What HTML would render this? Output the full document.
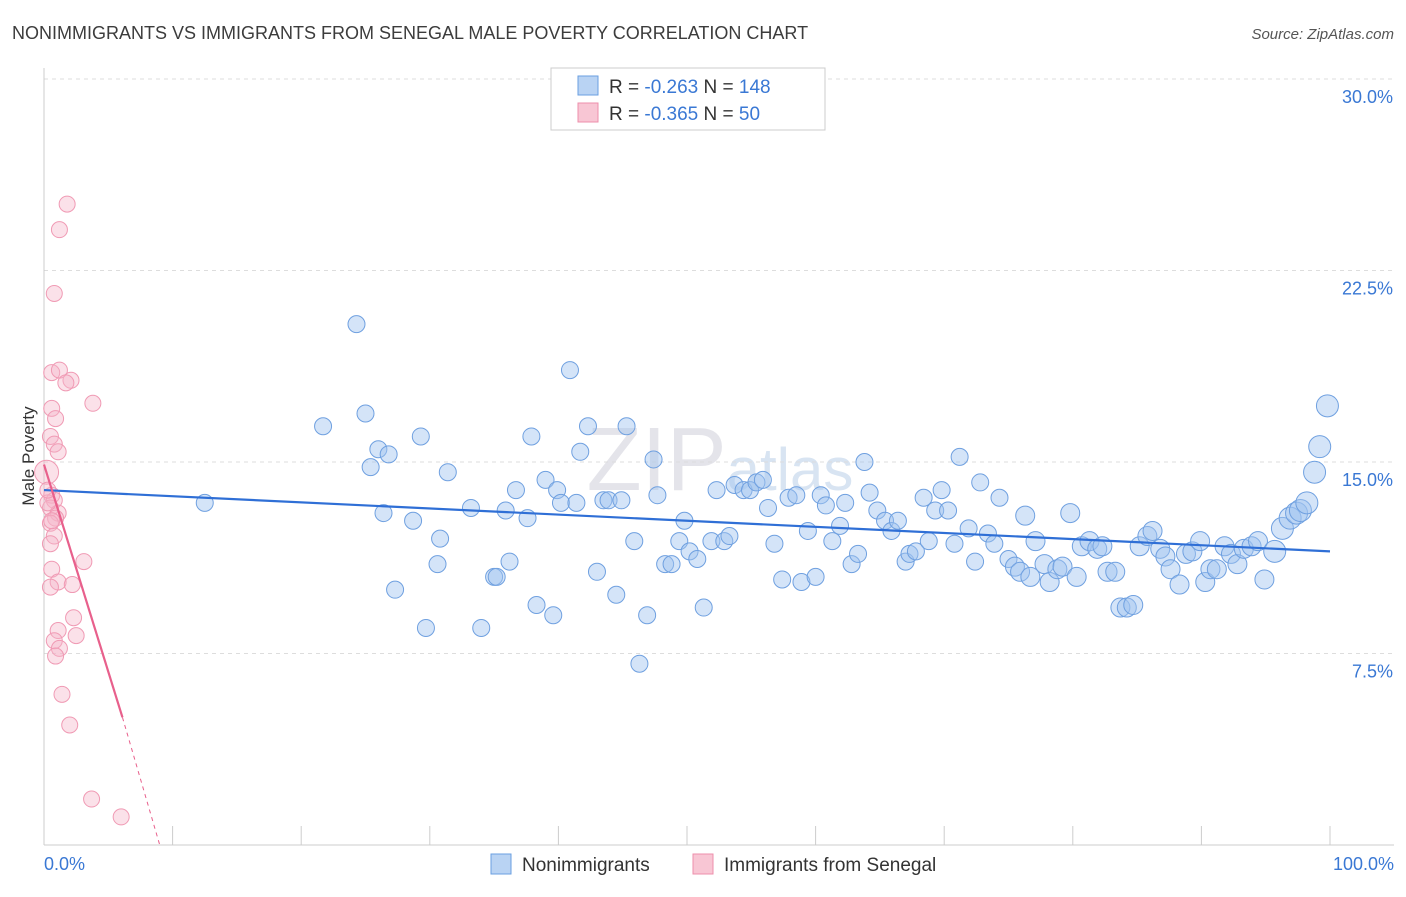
<!DOCTYPE html>
<html><head><meta charset="utf-8"><style>
body{margin:0;background:#fff;font-family:"Liberation Sans",sans-serif;}
svg text{font-family:"Liberation Sans",sans-serif;}
</style></head><body>
<svg id="chart" width="1406" height="892" viewBox="0 0 1406 892" xmlns="http://www.w3.org/2000/svg">
<text x="12" y="39" font-size="18" fill="#3c3c3c">NONIMMIGRANTS VS IMMIGRANTS FROM SENEGAL MALE POVERTY CORRELATION CHART</text>
<text x="1394" y="39" font-size="15" fill="#555" font-style="italic" text-anchor="end">Source: ZipAtlas.com</text>
<text x="34" y="456" font-size="17" fill="#333" text-anchor="middle" transform="rotate(-90 34 456)">Male Poverty</text>
<text x="720" y="490" font-size="90" fill="#e4e4ea" text-anchor="middle" font-family="Liberation Serif">ZIP<tspan font-size="60" font-family="Liberation Sans" fill="#d8e4f2">atlas</tspan></text>
<g id="grid"></g><g id="axes"></g><g id="blue"></g><g id="pink"></g><g id="trends"></g>
<g>
<rect x="551" y="68" width="274" height="62" fill="#fff" stroke="#ccc"/>
<rect x="578" y="76" width="20" height="19" fill="#b9d3f3" stroke="#6a9fe0"/>
<text x="609" y="93" font-size="19" fill="#333">R = <tspan fill="#3a78d4">-0.263</tspan>   N = <tspan fill="#3a78d4">148</tspan></text>
<rect x="578" y="103" width="20" height="19" fill="#f8c6d4" stroke="#ee8fab"/>
<text x="609" y="120" font-size="19" fill="#333">R = <tspan fill="#3a78d4">-0.365</tspan>   N = <tspan fill="#3a78d4"> 50</tspan></text>
</g>
<g>
<rect x="491" y="854" width="20" height="20" fill="#b9d3f3" stroke="#6a9fe0"/>
<text x="522" y="871" font-size="19" fill="#333">Nonimmigrants</text>
<rect x="693" y="854" width="20" height="20" fill="#f8c6d4" stroke="#ee8fab"/>
<text x="724" y="871" font-size="19" fill="#333">Immigrants from Senegal</text>
</g>
</svg>
<script>
const blueX=[12.5,24.3,21.7,25.0,25.4,26.0,26.8,26.4,27.3,28.7,29.3,29.7,30.6,30.8,31.4,33.2,34.0,35.0,35.2,35.9,36.2,36.7,37.6,37.9,38.3,39.0,39.6,39.9,40.2,40.9,41.4,41.7,42.3,43.0,43.5,43.9,44.5,44.9,45.3,45.9,46.3,46.9,47.4,47.7,48.3,48.8,49.4,49.8,50.2,50.8,51.3,51.9,52.3,52.9,53.3,53.7,54.4,54.9,55.4,55.9,56.3,56.8,57.4,57.9,58.5,58.9,59.4,60.0,60.4,60.8,61.3,61.9,62.3,62.8,63.3,63.8,64.2,64.8,65.4,65.9,66.4,67.0,67.3,67.8,68.4,68.8,69.3,69.8,70.3,70.8,71.2,71.9,72.4,72.8,73.4,73.9,74.3,75.0,75.5,75.9,76.3,76.7,77.1,77.8,78.2,78.8,79.2,79.8,80.3,80.7,81.3,81.9,82.3,82.7,83.3,83.7,84.2,84.7,85.2,85.8,86.2,86.8,87.2,87.6,88.3,88.8,89.3,89.9,90.3,90.7,91.2,91.8,92.3,92.8,93.3,93.9,94.4,94.9,95.7,96.3,96.9,97.4,97.7,98.2,98.8,99.2,99.8];
const blueY=[13.4,20.4,16.4,16.9,14.8,15.5,15.3,13.0,10.0,12.7,16.0,8.5,11.0,12.0,14.6,13.2,8.5,10.5,10.5,13.1,11.1,13.9,12.8,16.0,9.4,14.3,9.0,13.9,13.4,18.6,13.4,15.4,16.4,10.7,13.5,13.5,9.8,13.5,16.4,11.9,7.1,9.0,15.1,13.7,11.0,11.0,11.9,12.7,11.5,11.2,9.3,11.9,13.9,11.9,12.1,14.1,13.9,13.9,14.2,14.3,13.2,11.8,10.4,13.6,13.7,10.3,12.3,10.5,13.7,13.3,11.9,12.5,13.4,11.0,11.4,15.0,13.8,13.1,12.7,12.3,12.7,11.1,11.4,11.5,13.6,11.9,13.1,13.9,13.1,11.8,15.2,12.4,11.1,14.2,12.2,11.8,13.6,11.2,10.9,10.7,12.9,10.5,11.9,11.0,10.3,10.8,10.9,13.0,10.5,11.7,11.9,11.6,11.7,10.7,10.7,9.3,9.3,9.4,11.7,12.1,12.3,11.6,11.3,10.8,10.2,11.4,11.5,11.9,10.3,10.8,10.8,11.7,11.4,11.0,11.6,11.7,11.9,10.4,11.5,12.4,12.8,13.0,13.1,13.4,14.6,15.6,17.2];
const pinkX=[1.8,1.2,0.8,0.6,1.2,2.1,1.7,3.8,0.6,0.9,0.5,0.8,1.1,0.2,0.6,0.8,0.5,1.1,0.9,0.5,0.8,0.5,3.1,0.6,1.1,2.2,0.5,2.3,1.1,0.8,2.5,1.2,0.9,1.4,2.0,3.7,6.0,0.3,0.6,0.3];
const pinkY=[25.1,24.1,21.6,18.5,18.6,18.2,18.1,17.3,17.1,16.7,16.0,15.7,15.4,14.6,13.7,13.5,13.2,13.0,12.8,12.6,12.1,11.8,11.1,10.8,10.3,10.2,10.1,8.9,8.4,8.0,8.2,7.7,7.4,5.9,4.7,1.8,1.1,13.4,12.7,13.9];
const yTicks=[30,22.5,15,7.5];
const yTickLabels=["30.0%","22.5%","15.0%","7.5%"];
const blueTrend=[[0,13.9],[100,11.5]];
const pinkTrend=[[0,14.9],[6.1,5.0]];
const pinkDash=[[6.1,5.0],[9.0,0]];
const NS="http://www.w3.org/2000/svg";
const X0=44,X1=1330,Y0=845,YPX=191.5/7.5;
const sx=v=>X0+(X1-X0)*v/100, sy=v=>Y0-v*YPX;
function mk(t,a,p){const e=document.createElementNS(NS,t);for(const k in a)e.setAttribute(k,a[k]);p.appendChild(e);return e;}
const grid=document.getElementById('grid'),axes=document.getElementById('axes');
yTicks.forEach((t,i)=>{
 const l=mk('line',{x1:X0,x2:1394,y1:sy(t),y2:sy(t),stroke:'#ddd','stroke-dasharray':'4,4'},grid);
 
 
 const tx=mk('text',{x:1393,y:sy(t)+24,'font-size':18,fill:'#3a78d4','text-anchor':'end'},axes);
 tx.textContent=yTickLabels[i];
 
 
});
const ya=mk('line',{x1:X0,x2:X0,y1:68,y2:Y0,stroke:'#ccc'},axes);


const xa=mk('line',{x1:X0,x2:1394,y1:Y0,y2:Y0,stroke:'#ccc'},axes);


for(let i=0;i<=10;i++){
 const tk=mk('line',{x1:sx(i*10),x2:sx(i*10),y1:826,y2:Y0,stroke:'#ccc'},axes);
 
 
}
[["0.0%",44,'start'],["100.0%",1394,'end']].forEach(a=>{
 const t=mk('text',{x:a[1],y:870,'font-size':18,fill:'#3a78d4','text-anchor':a[2]},axes);
 t.textContent=a[0];
 
 
});
const bg=document.getElementById('blue');
blueX.forEach((x,i)=>{
 const r=x>95?11:(x>75?9.5:8.5);
 const c=mk('circle',{cx:sx(x),cy:sy(blueY[i]),r:r,fill:'rgba(160,196,240,0.45)',stroke:'#6fa0e0','stroke-width':1},bg);
 
 
});
const pg=document.getElementById('pink');
pinkX.forEach((x,i)=>{
 const r=(i===13)?12:8;
 const c=mk('circle',{cx:sx(x),cy:sy(pinkY[i]),r:r,fill:'rgba(246,180,200,0.4)',stroke:'#f09ab4','stroke-width':1},pg);
 
 
});
const tg=document.getElementById('trends');
const bl=mk('line',{x1:sx(blueTrend[0][0]),y1:sy(blueTrend[0][1]),x2:sx(blueTrend[1][0]),y2:sy(blueTrend[1][1]),stroke:'#2f6fd6','stroke-width':2.2},tg);


const pl=mk('line',{x1:sx(pinkTrend[0][0]),y1:sy(pinkTrend[0][1]),x2:sx(pinkTrend[1][0]),y2:sy(pinkTrend[1][1]),stroke:'#e8608c','stroke-width':2.2},tg);


const pd=mk('line',{x1:sx(pinkDash[0][0]),y1:sy(pinkDash[0][1]),x2:sx(pinkDash[1][0]),y2:sy(pinkDash[1][1]),stroke:'#e8608c','stroke-width':1,'stroke-dasharray':'4,4'},tg);


</script>
</body></html>
